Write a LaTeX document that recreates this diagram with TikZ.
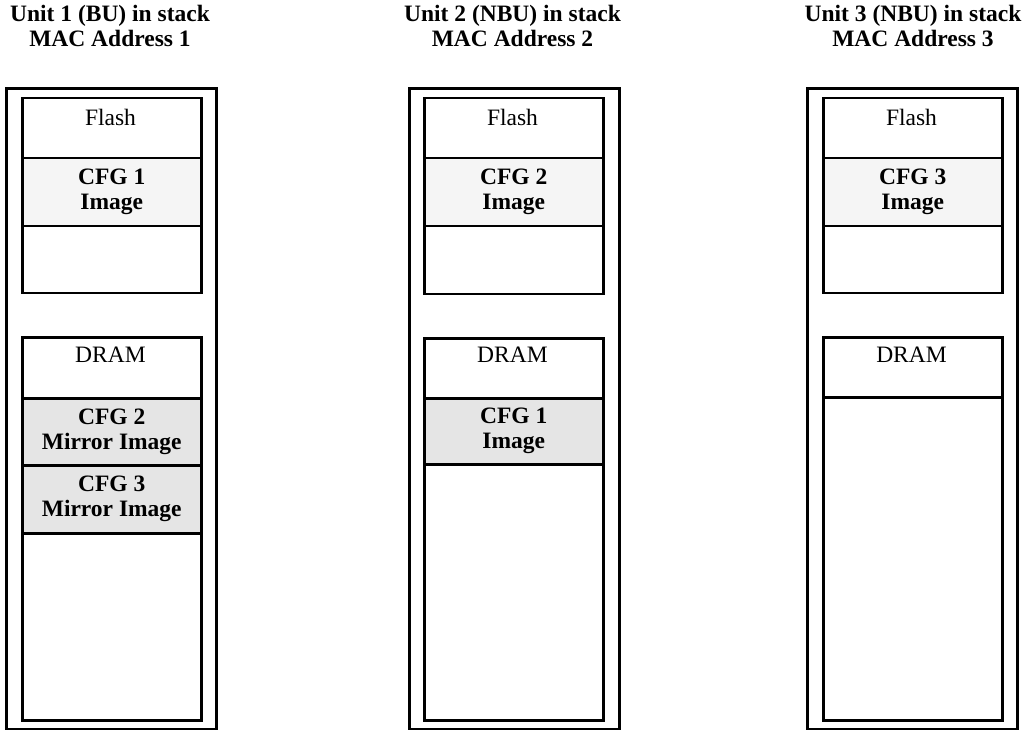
\documentclass[tikz,border=0pt]{standalone}
\usepackage{fontspec}
\setmainfont{Liberation Serif}
\begin{document}
\begin{tikzpicture}[x=1pt,y=-1pt,
  outerbox/.style={draw=black, line width=2.6pt, inner sep=0pt, minimum width=210pt, minimum height=641pt, anchor=north west},
  cell/.style={draw=black, line width=2.5pt, inner sep=0pt, minimum width=179pt, anchor=north west},
  fa/.style={fill=gray!8},
  fb/.style={fill=gray!20},
  txt/.style={font=\fontsize{23.5}{25}\selectfont, align=center, inner sep=0pt},
  btxt/.style={font=\fontsize{23.5}{25}\selectfont\bfseries, align=center, inner sep=0pt}]
\useasboundingbox (0,0) rectangle (1026,730);

% ---------- Unit 1 ----------
\node[btxt] (t1) at (110,25.5) {Unit 1 (BU) in stack\\MAC Address 1};
\node[outerbox] (o1) at (5,87) {};
\node[cell, minimum height=60pt] (f1) at (21,97) {};
\node[cell, fa, minimum height=68pt] (c1a) at (21,157) {};
\node[cell, minimum height=67pt] (e1a) at (21,225) {};
\node[txt] (f1t) at (110.5,117) {Flash};
\node[btxt] (c1at) at (c1a.center) {CFG 1\\Image};
\node[cell, minimum height=61pt] (d1) at (21,336) {};
\node[cell, fb, minimum height=67pt] (c1b) at (21,397) {};
\node[cell, fb, minimum height=68pt] (c1c) at (21,464) {};
\node[cell, minimum height=187pt] (e1b) at (21,532) {};
\node[txt] (d1t) at (110.5,355) {DRAM};
\node[btxt] (c1bt) at (c1b.center) {CFG 2\\Mirror Image};
\node[btxt] (c1ct) at (c1c.center) {CFG 3\\Mirror Image};

% ---------- Unit 2 ----------
\node[btxt] (t2) at (512.5,25.5) {Unit 2 (NBU) in stack\\MAC Address 2};
\node[outerbox] (o2) at (408,87) {};
\node[cell, minimum height=60pt] (f2) at (423,97) {};
\node[cell, fa, minimum height=68pt] (c2a) at (423,157) {};
\node[cell, minimum height=68pt] (e2a) at (423,225) {};
\node[txt] (f2t) at (512.5,117) {Flash};
\node[btxt] (c2at) at (c2a.center) {CFG 2\\Image};
\node[cell, minimum height=60pt] (d2) at (423,337) {};
\node[cell, fb, minimum height=66pt] (c2b) at (423,397) {};
\node[cell, minimum height=256pt] (e2b) at (423,463) {};
\node[txt] (d2t) at (512.5,355) {DRAM};
\node[btxt] (c2bt) at (c2b.center) {CFG 1\\Image};

% ---------- Unit 3 ----------
\node[btxt] (t3) at (913,25.5) {Unit 3 (NBU) in stack\\MAC Address 3};
\node[outerbox] (o3) at (806,87) {};
\node[cell, minimum height=60pt] (f3) at (822,97) {};
\node[cell, fa, minimum height=68pt] (c3a) at (822,157) {};
\node[cell, minimum height=67pt] (e3a) at (822,225) {};
\node[txt] (f3t) at (911.5,117) {Flash};
\node[btxt] (c3at) at (c3a.center) {CFG 3\\Image};
\node[cell, minimum height=60pt] (d3) at (822,336) {};
\node[cell, minimum height=323pt] (e3b) at (822,396) {};
\node[txt] (d3t) at (911.5,355) {DRAM};
\end{tikzpicture}
\end{document}
